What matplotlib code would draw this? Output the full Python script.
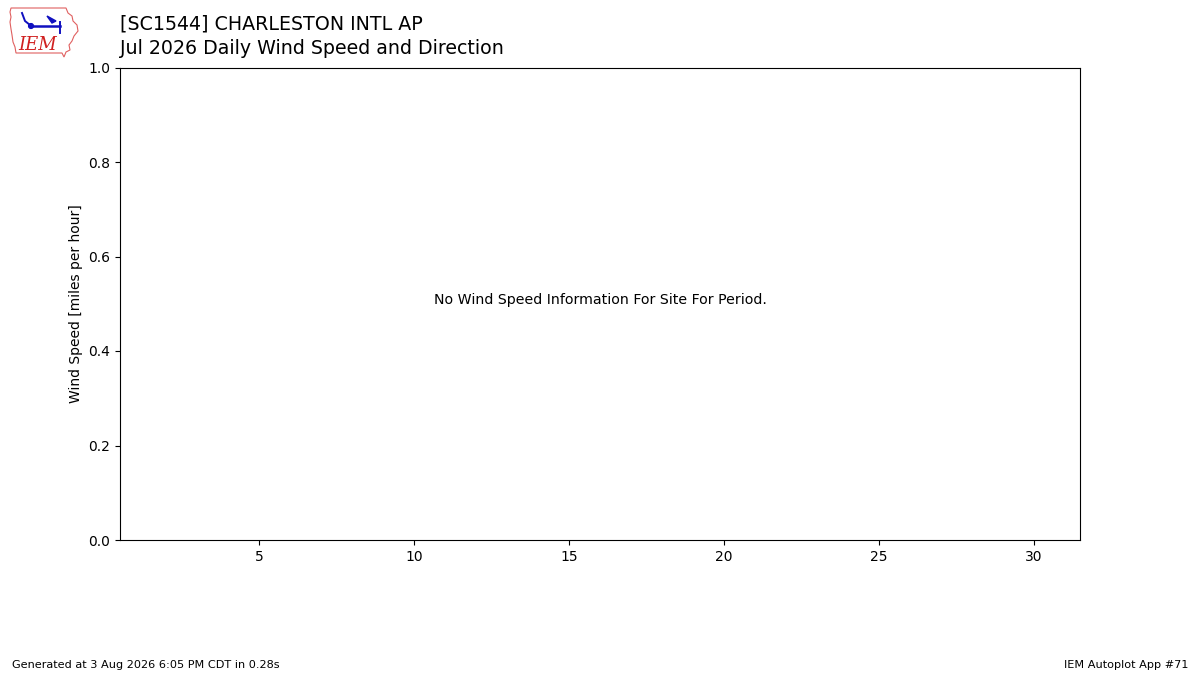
import matplotlib
matplotlib.use("Agg")
import matplotlib.pyplot as plt
from matplotlib.patches import Polygon, Circle

station = "[SC1544] CHARLESTON INTL AP"
subtitle = "Jul 2026 Daily Wind Speed and Direction"
message = "No Wind Speed Information For Site For Period."
ylabel = "Wind Speed [miles per hour]"
xticks = [5, 10, 15, 20, 25, 30]
yticks = [0.0, 0.2, 0.4, 0.6, 0.8, 1.0]
footer_left = "Generated at 3 Aug 2026 6:05 PM CDT in 0.28s"
footer_right = "IEM Autoplot App #71"

fig = plt.figure(figsize=(12, 6.75), dpi=100)
ax = fig.add_axes([0.1, 0.2, 0.8, 0.7])
ax.set_xlim(0.5, 31.5)
ax.set_ylim(0, 1)
ax.set_xticks(xticks)
ax.set_yticks(yticks)
ax.set_ylabel(ylabel)
ax.text(0.5, 0.5, message, transform=ax.transAxes, ha="center", va="baseline",
        fontsize=10.2)

fig.text(0.1, 1 - 24 / 675, station, fontsize=13.7, va="center", ha="left")
fig.text(0.1, 1 - 48 / 675, subtitle, fontsize=13.7, va="center", ha="left")
fig.text(12 / 1200, 1 - 665 / 675, footer_left, fontsize=8.15, va="center", ha="left")
fig.text(1188 / 1200, 1 - 665 / 675, footer_right, fontsize=8.15, va="center", ha="right")

# simplified IEM logo
lax = fig.add_axes([0, 1 - 60 / 675, 80 / 1200, 60 / 675])
lax.set_xlim(0, 80)
lax.set_ylim(60, 0)
lax.axis("off")
iowa = [(11, 8), (66, 8), (68, 13), (72, 16), (73, 21), (77, 25), (78, 31),
        (74, 36), (72, 41), (69, 45), (70, 50), (66, 52), (64, 57), (62, 53),
        (16, 53), (15, 47), (13, 42), (12, 35), (11, 29), (10, 22), (11, 17), (10, 12)]
lax.add_patch(Polygon(iowa, closed=True, fill=False, edgecolor="#e06060", lw=0.8))
lax.plot([31, 60], [26, 26], color="#1010c0", lw=1.8)
lax.add_patch(Circle((31, 26), 2.4, color="#1010c0"))
lax.plot([22, 25, 30], [13, 21, 25], color="#1010c0", lw=1.4)
lax.add_patch(Polygon([(47, 16), (56, 21), (52, 23)], closed=True, color="#1010c0"))
lax.plot([60, 60], [22, 33], color="#1010c0", lw=1.4)
lax.text(38, 45, "IEM", color="#d02020", fontsize=13, fontstyle="italic",
         family="DejaVu Serif", ha="center", va="center")

fig.savefig("out.png", dpi=100)
